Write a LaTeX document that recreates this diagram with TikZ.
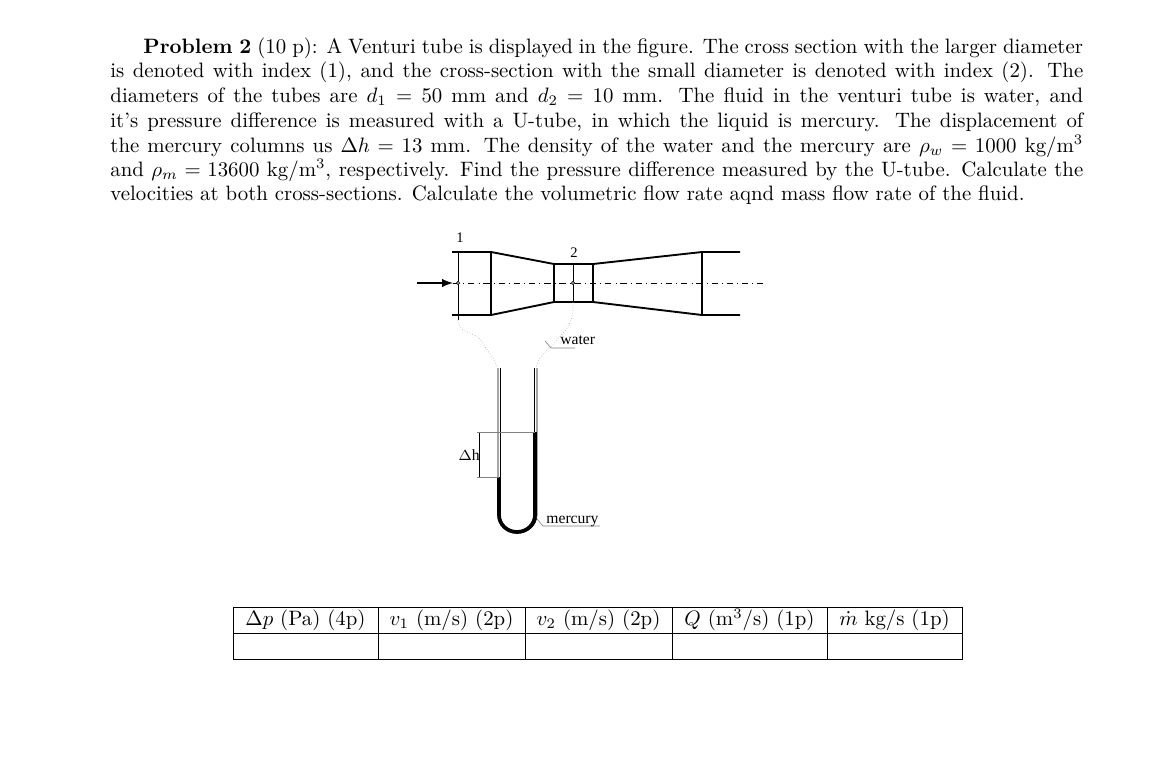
\documentclass[tikz,border=0pt]{standalone}
\usepackage{amsmath}
\usepackage{fontspec}
\newfontfamily\figfont{Liberation Serif}
\begin{document}
\begin{tikzpicture}[x=0.48pt,y=-0.48pt,
  pipe/.style={line width=0.9pt},
  thin/.style={line width=0.3pt},
  hose/.style={line width=0.3pt,gray!70,densely dotted},
  lbl/.style={font=\figfont\fontsize{7}{8}\selectfont,inner sep=0pt},
  txt/.style={anchor=base west,inner sep=0pt,font=\fontsize{10}{12}\selectfont},
  cell/.style={font=\fontsize{10}{12}\selectfont,inner sep=0pt}]
\useasboundingbox (0,0) rectangle (1170,775);
% paragraph
\node[txt] (l1) at (143,53) {\makebox[451pt][s]{\textbf{Problem 2} (10 p): A Venturi tube is displayed in the figure. The cross section with the larger diameter}};
\node[txt] (l2) at (110,77) {\makebox[467pt][s]{is denoted with index (1), and the cross-section with the small diameter is denoted with index (2). The}};
\node[txt] (l3) at (110,102) {\makebox[467pt][s]{diameters of the tubes are $d_1 = 50$ mm and $d_2 = 10$ mm. The fluid in the venturi tube is water, and}};
\node[txt] (l4) at (110,127) {\makebox[467pt][s]{it's pressure difference is measured with a U-tube, in which the liquid is mercury. The displacement of}};
\node[txt] (l5) at (110,152) {\makebox[467pt][s]{the mercury columns us $\Delta h = 13$ mm. The density of the water and the mercury are $\rho_w = 1000$ kg/m$^3$}};
\node[txt] (l6) at (110,176) {\makebox[467pt][s]{and $\rho_m = 13600$ kg/m$^3$, respectively. Find the pressure difference measured by the U-tube. Calculate the}};
\node[txt] (l7) at (110,200) {velocities at both cross-sections. Calculate the volumetric flow rate aqnd mass flow rate of the fluid.};
% venturi
\draw[pipe] (452,252) -- (491,252) -- (554,264) -- (593,264) -- (702,252) -- (740,252);
\draw[pipe] (452,315) -- (491,315) -- (554,302) -- (593,302) -- (702,315) -- (740,315);
\draw[pipe] (491,252) -- (491,315);
\draw[pipe] (554,264) -- (554,302);
\draw[pipe] (593,264) -- (593,302);
\draw[pipe] (702,252) -- (702,315);
\draw[thin,dash dot] (453,283) -- (765,283);
\draw[line width=0.8pt,-latex] (417,283) -- (453,283);
\coordinate (p1) at (458,283);
\coordinate (p2) at (573,283);
\draw[thin] (458,252) -- (458,320);
\draw[thin] (573,264) -- (573,302);
\draw[thin,fill=white] (p1) circle (1.6);
\draw[thin,fill=white] (p2) circle (1.6);
\node[lbl] (n1) at (460,238) {1};
\node[lbl] (n2) at (574,253) {2};
% hoses
\draw[hose] (458,320) .. controls (458,335) and (475,330) .. (482,342) .. controls (490,355) and (496,360) .. (497,368);
\draw[hose] (573,302) .. controls (574,325) and (565,330) .. (553,345) .. controls (540,355) and (537,362) .. (536,368);
% U-tube
\draw[thin] (498,368) -- (498,515) arc (180:0:19.5 and 18) -- (537,368);
\draw[thin] (500,368) -- (500,515);
\draw[thin] (534,368) -- (534,515);
\draw[line width=1.8pt] (499,477) -- (499,515) arc (180:0:18 and 17) -- (535,432);
% delta h
\draw[thin] (479,432) -- (479,477);
\draw[thin,gray] (477,432) -- (535,432);
\draw[thin,gray] (477,477) -- (499,477);
\node[lbl,font=\figfont\fontsize{7.5}{8}\selectfont] (dh) at (469,455) {$\Delta$h};
% leaders
\draw[thin,gray] (545,341) -- (551,348) -- (575,348);
\node[lbl,anchor=base west,font=\figfont\fontsize{7.5}{8}\selectfont] (w) at (560,344) {water};
\draw[thin,gray] (537,519) -- (543,526) -- (600,526);
\node[lbl,anchor=base west,font=\figfont\fontsize{7.5}{8}\selectfont] (m) at (546,523) {mercury};
% table
\draw[line width=0.4pt] (233,607) rectangle (962,659);
\draw[line width=0.4pt] (233,633) -- (962,633);
\foreach \x in {378,525,672,827} \draw[line width=0.4pt] (\x,607) -- (\x,659);
\node[cell] (c1) at (305.5,620) {$\Delta p$ (Pa) (4p)};
\node[cell] (c2) at (451.5,620) {$v_1$ (m/s) (2p)};
\node[cell] (c3) at (598.5,620) {$v_2$ (m/s) (2p)};
\node[cell] (c4) at (749.5,620) {$Q$ (m$^3$/s) (1p)};
\node[cell] (c5) at (894.5,620) {$\dot{m}$ kg/s (1p)};
\end{tikzpicture}
\end{document}
